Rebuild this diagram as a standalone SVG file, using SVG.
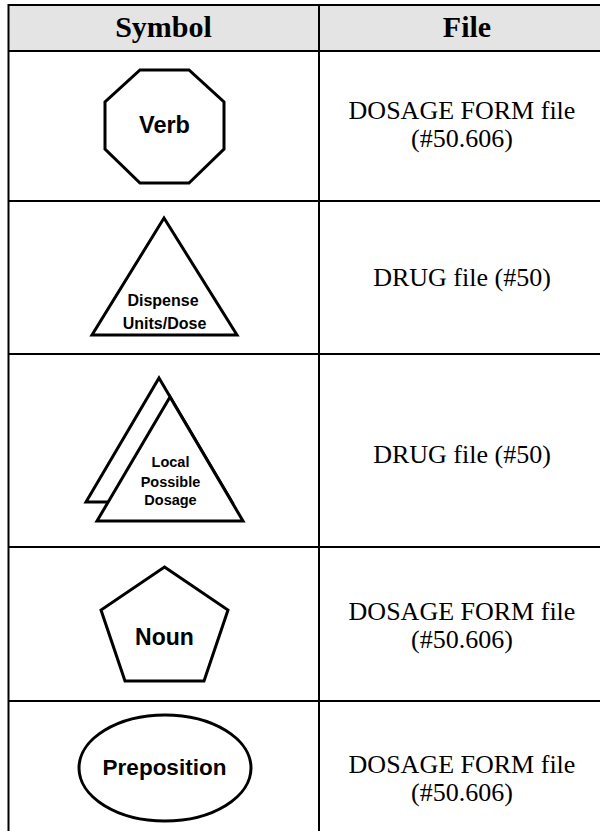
<svg xmlns="http://www.w3.org/2000/svg" width="600" height="831" viewBox="0 0 600 831">
<style>
.grid{stroke:#000;stroke-width:2;fill:none}
.shape{stroke:#000;stroke-width:3;fill:#fff;stroke-linejoin:miter}
.hdr{font-family:"Liberation Serif","Times New Roman",serif;font-weight:bold;font-size:30px;text-anchor:middle;fill:#000}
.file{font-family:"Liberation Serif","Times New Roman",serif;font-size:26px;text-anchor:middle;fill:#000}
.lbl{font-family:"Liberation Sans",Arial,sans-serif;font-weight:bold;text-anchor:middle;fill:#000}
</style>
<rect x="0" y="0" width="600" height="831" fill="#fff"/>
<g id="table">
<rect x="8.5" y="5" width="600" height="46" fill="#e4e4e4"/>
<path class="grid" d="M8.5 5H600M8.5 51H600M8.5 201H600M8.5 354H600M8.5 547H600M8.5 701H600M8.5 4V831M319 4V831"/>
<text class="hdr" x="163.5" y="37">Symbol</text>
<text class="hdr" x="467" y="37">File</text>
</g>
<g id="verb">
<polygon class="shape" points="140,70 189,70 224,102 224,149 189,183 140,183 105,149 105,102"/>
<text class="lbl" x="164.5" y="133" font-size="23.5">Verb</text>
</g>
<g id="verb-file">
<text class="file" x="462" y="119">DOSAGE FORM file</text>
<text class="file" x="462" y="147">(#50.606)</text>
</g>
<g id="dispense">
<polygon class="shape" points="164,218 237,335 92,335"/>
<text class="lbl" x="163" y="306" font-size="16">Dispense</text>
<text class="lbl" x="164.5" y="329" font-size="16">Units/Dose</text>
</g>
<g id="dispense-file">
<text class="file" x="462" y="286">DRUG file (#50)</text>
</g>
<g id="local">
<polygon class="shape" points="159,378 232,502 86,502"/>
<polygon class="shape" points="170,397 243,521 97,521"/>
<text class="lbl" x="170.5" y="467" font-size="14.5">Local</text>
<text class="lbl" x="170.5" y="487" font-size="14.5">Possible</text>
<text class="lbl" x="170.5" y="505" font-size="14.5">Dosage</text>
</g>
<g id="local-file">
<text class="file" x="462" y="463">DRUG file (#50)</text>
</g>
<g id="noun">
<polygon class="shape" points="164.5,567 228,610 204,681 125,681 101,610"/>
<text class="lbl" x="164.5" y="645" font-size="23">Noun</text>
</g>
<g id="noun-file">
<text class="file" x="462" y="620">DOSAGE FORM file</text>
<text class="file" x="462" y="648">(#50.606)</text>
</g>
<g id="preposition">
<ellipse class="shape" cx="165" cy="768" rx="86" ry="53"/>
<text class="lbl" x="164.5" y="775" font-size="22.5">Preposition</text>
</g>
<g id="preposition-file">
<text class="file" x="462" y="773">DOSAGE FORM file</text>
<text class="file" x="462" y="801">(#50.606)</text>
</g>
<g id="connectors"></g>
</svg>
